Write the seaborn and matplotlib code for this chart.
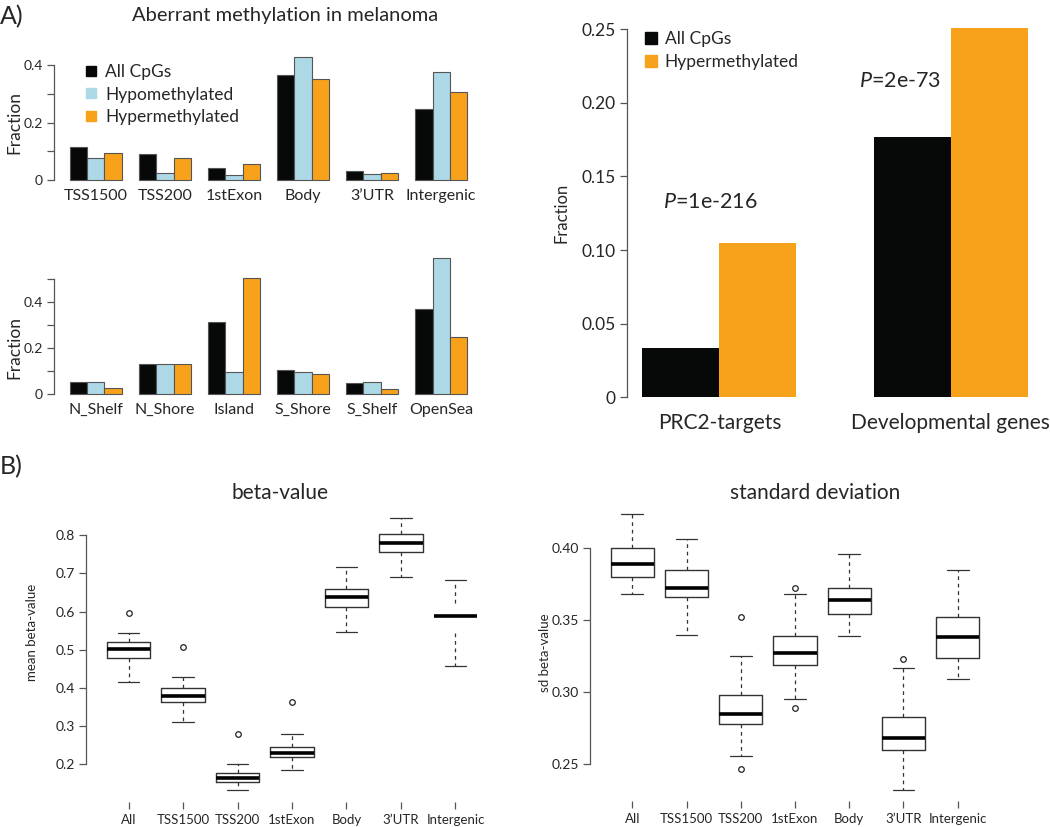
import numpy as np
import pandas as pd
import seaborn as sns
import matplotlib
matplotlib.use('Agg')
import matplotlib.pyplot as plt
from matplotlib.lines import Line2D

sns.set_style('white')
plt.rcParams['font.family'] = ['Lato', 'DejaVu Sans']
plt.rcParams['mathtext.fontset'] = 'custom'
plt.rcParams['mathtext.rm'] = 'Lato'
plt.rcParams['mathtext.it'] = 'Lato:italic'

# ---- data ----
series = ['All CpGs', 'Hypomethylated', 'Hypermethylated']
colors = ['#070908', '#add8e6', '#f8a21c']

gene_regions = ['TSS1500', 'TSS200', '1stExon', 'Body', '3’UTR', 'Intergenic']
gene_all = [0.116, 0.090, 0.043, 0.365, 0.031, 0.249]
gene_hypo = [0.078, 0.026, 0.017, 0.429, 0.021, 0.377]
gene_hyper = [0.095, 0.077, 0.056, 0.352, 0.024, 0.306]

cpg_regions = ['N_Shelf', 'N_Shore', 'Island', 'S_Shore', 'S_Shelf', 'OpenSea']
cpg_all = [0.052, 0.130, 0.312, 0.101, 0.046, 0.370]
cpg_hypo = [0.052, 0.128, 0.093, 0.093, 0.052, 0.588]
cpg_hyper = [0.025, 0.130, 0.504, 0.084, 0.019, 0.246]

target_sets = ['PRC2-targets', 'Developmental genes']
target_all = [0.0336, 0.177]
target_hyper = [0.105, 0.251]
target_pvals = ['1e-216', '2e-73']

box_labels = ['All', 'TSS1500', 'TSS200', '1stExon', 'Body', '3’UTR', 'Intergenic']
# beta-value box stats
beta_whislo = [0.416, 0.310, 0.132, 0.184, 0.546, 0.690, 0.457]
beta_q1 = [0.478, 0.363, 0.154, 0.218, 0.612, 0.756, 0.545]
beta_med = [0.502, 0.380, 0.164, 0.229, 0.637, 0.779, 0.589]
beta_q3 = [0.521, 0.400, 0.177, 0.245, 0.658, 0.802, 0.622]
beta_whishi = [0.543, 0.428, 0.201, 0.280, 0.717, 0.846, 0.683]
beta_fliers = [[0.597], [0.508], [0.278], [0.363], [], [], []]
# sd beta-value box stats
sd_whislo = [0.368, 0.340, 0.256, 0.295, 0.339, 0.232, 0.309]
sd_q1 = [0.380, 0.366, 0.278, 0.319, 0.354, 0.260, 0.324]
sd_med = [0.389, 0.372, 0.285, 0.327, 0.364, 0.268, 0.338]
sd_q3 = [0.400, 0.385, 0.298, 0.339, 0.372, 0.283, 0.352]
sd_whishi = [0.424, 0.406, 0.325, 0.368, 0.396, 0.317, 0.385]
sd_fliers = [[], [], [0.352, 0.247], [0.372, 0.289], [], [0.323], []]

W, H = 1050, 827
fig = plt.figure(figsize=(W / 100, H / 100), dpi=100)
AX = '#555555'


def px_axes(x0, y0, x1, y1):
    return fig.add_axes([x0 / W, 1 - y1 / H, (x1 - x0) / W, (y1 - y0) / H])


def long_df(cats, names, vals):
    rows = []
    for n, v in zip(names, vals):
        rows.append(pd.DataFrame({'cat': cats, 'series': n, 'value': v}))
    return pd.concat(rows, ignore_index=True)


def style_y(ax, lo, hi, ticks, labels, size):
    for s in ['top', 'right', 'bottom']:
        ax.spines[s].set_visible(False)
    ax.spines['left'].set_bounds(lo, hi)
    ax.spines['left'].set_color(AX)
    ax.spines['left'].set_linewidth(0.9)
    ax.set_yticks(ticks)
    ax.set_yticklabels(labels, fontsize=size)
    ax.tick_params(axis='y', direction='out', length=5, width=0.9, color=AX, pad=3, left=True)
    ax.set_xlabel('')
    ax.set_ylabel('')


def grouped(ax, cats, names, vals, cols, width, edge, lw):
    df = long_df(cats, names, vals)
    sns.barplot(data=df, x='cat', y='value', hue='series', hue_order=names,
                palette=cols, width=width, gap=0, saturation=1,
                edgecolor=edge, linewidth=lw, legend=False, ax=ax)
    ax.tick_params(axis='x', length=0)


def sq_legend(ax, names, cols, x, y, size, ms, spacing):
    handles = [Line2D([], [], marker='s', ls='', color=c, markersize=ms) for c in cols]
    ax.legend(handles, names, loc='upper left', bbox_to_anchor=(x, y), frameon=False,
              fontsize=size, handlelength=0.6, handletextpad=0.5, borderpad=0,
              borderaxespad=0, labelspacing=spacing)


# ---- A) gene regions ----
ax1 = px_axes(54, 52, 483, 185)
grouped(ax1, gene_regions, series, [gene_all, gene_hypo, gene_hyper], colors, 0.75, '#555555', 0.8)
ax1.set_xlim(-0.605, 5.605)
ax1.set_ylim(-0.017, 0.446)
style_y(ax1, 0, 0.4, [0, 0.1, 0.2, 0.3, 0.4], ['0', '', '0.2', '', '0.4'], 10)
ax1.tick_params(axis='x', labelsize=11.5, pad=3)
sq_legend(ax1, series, colors, 0.075, 0.91, 12.5, 7, 0.38)

# ---- A) CpG island context ----
ax2 = px_axes(54, 253, 483, 399)
grouped(ax2, cpg_regions, series, [cpg_all, cpg_hypo, cpg_hyper], colors, 0.75, '#555555', 0.8)
ax2.set_xlim(-0.605, 5.605)
ax2.set_ylim(-0.0235, 0.6115)
style_y(ax2, 0, 0.5, [0, 0.1, 0.2, 0.3, 0.4, 0.5], ['0', '', '0.2', '', '0.4', ''], 10)
ax2.tick_params(axis='x', labelsize=11.5, pad=3)

# ---- A) PRC2 / developmental ----
ax3 = px_axes(627, 13, 1043, 412)
names3 = [series[0], series[2]]
cols3 = [colors[0], colors[2]]
grouped(ax3, target_sets, names3, [target_all, target_hyper], cols3, 2 / 3, 'none', 0)
ax3.set_xlim(-0.4, 1.4)
ax3.set_ylim(-0.01, 0.261)
style_y(ax3, 0, 0.25, [0, 0.05, 0.10, 0.15, 0.20, 0.25],
        ['0', '0.05', '0.10', '0.15', '0.20', '0.25'], 12.5)
ax3.tick_params(axis='x', labelsize=15, pad=1)
sq_legend(ax3, names3, cols3, 0.045, 0.955, 12.5, 8, 0.42)
ax3.text(-0.244, 0.1325, r'$\mathit{P}$=' + target_pvals[0], fontsize=15.5, va='center', ha='left')
ax3.text(0.604, 0.2147, r'$\mathit{P}$=' + target_pvals[1], fontsize=15.5, va='center', ha='left')

fig.text(14 / W, 1 - 122 / H, 'Fraction', rotation=90, fontsize=12.5, ha='center', va='center')
fig.text(14 / W, 1 - 347 / H, 'Fraction', rotation=90, fontsize=12.5, ha='center', va='center')
fig.text(562 / W, 1 - 213 / H, 'Fraction', rotation=90, fontsize=12, ha='center', va='center')
fig.text(285 / W, 1 - 15 / H, 'Aberrant methylation in melanoma', fontsize=14.5, ha='center', va='center')
fig.text(0, 1 - 17 / H, 'A)', fontsize=18, ha='left', va='center')
fig.text(0, 1 - 467 / H, 'B)', fontsize=18, ha='left', va='center')


# ---- B) boxplots ----
def boxes(ax, lo, q1, med, q3, hi, fl):
    stats = [dict(whislo=a, q1=b, med=c, q3=d, whishi=e, fliers=f)
             for a, b, c, d, e, f in zip(lo, q1, med, q3, hi, fl)]
    parts = ax.bxp(stats, positions=range(1, 8), widths=0.8, showfliers=True,
                   boxprops=dict(color='#333333', lw=1),
                   medianprops=dict(color='black', lw=2.6, solid_capstyle='butt'),
                   whiskerprops=dict(color='#333333', lw=0.9, ls=(0, (3, 3))),
                   capprops=dict(color='#333333', lw=0.9),
                   flierprops=dict(marker='o', mfc='none', mec='#222222', ms=4, mew=0.9))
    for s in ['top', 'right']:
        ax.spines[s].set_visible(False)
    ax.spines['bottom'].set_bounds(1, 7)
    ax.spines['bottom'].set_color(AX)
    ax.spines['bottom'].set_linewidth(0.9)
    ax.set_xticks(range(1, 8))
    ax.set_xticklabels(box_labels, fontsize=9.5)
    ax.tick_params(axis='x', direction='out', length=5, width=0.9, color=AX, pad=3.5, bottom=True)
    ax.set_xlim(0.22, 7.78)
    return parts


ax4 = px_axes(86, 507, 498, 802)
p4 = boxes(ax4, beta_whislo, beta_q1, beta_med, beta_q3, beta_whishi, beta_fliers)
p4['boxes'][6].set_visible(False)
ax4.set_ylim(0.101, 0.874)
style_y(ax4, 0.2, 0.8, [0.2, 0.3, 0.4, 0.5, 0.6, 0.7, 0.8],
        ['0.2', '0.3', '0.4', '0.5', '0.6', '0.7', '0.8'], 10)

ax5 = px_axes(590, 503, 1000, 801)
boxes(ax5, sd_whislo, sd_q1, sd_med, sd_q3, sd_whishi, sd_fliers)
ax5.set_ylim(0.2245, 0.4313)
style_y(ax5, 0.25, 0.40, [0.25, 0.30, 0.35, 0.40], ['0.25', '0.30', '0.35', '0.40'], 10)

fig.text(280 / W, 1 - 493 / H, 'beta-value', fontsize=15, ha='center', va='center')
fig.text(815 / W, 1 - 493 / H, 'standard deviation', fontsize=15, ha='center', va='center')
fig.text(32 / W, 1 - 632 / H, 'mean beta-value', rotation=90, fontsize=9.5, ha='center', va='center')
fig.text(545 / W, 1 - 653 / H, 'sd beta-value', rotation=90, fontsize=9.5, ha='center', va='center')

fig.savefig('out.png', dpi=100)
